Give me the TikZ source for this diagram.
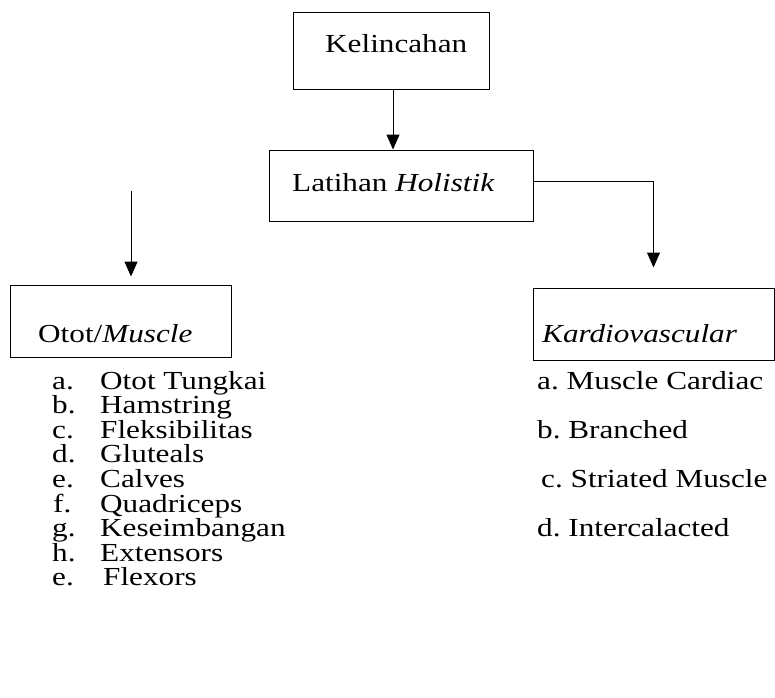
\documentclass[tikz,border=0pt]{standalone}
\usepackage{fontspec}
\setmainfont{Liberation Serif}[FakeStretch=1.2]
\usetikzlibrary{arrows.meta}
\frenchspacing
\begin{document}
\begin{tikzpicture}[x=1pt,y=-1pt,
  box/.style={draw,line width=1pt,inner sep=0pt},
  arr/.style={draw,line width=1pt,-{Triangle[width=13pt,length=15pt]}},
  txt/.style={anchor=base west,inner sep=0pt,font=\fontsize{26}{25}\selectfont}]
\useasboundingbox (0,0) rectangle (775,697);
% boxes
\node[box,minimum width=196pt,minimum height=77pt] (top) at (391,50.5) {};
\node[box,minimum width=264pt,minimum height=71pt] (mid) at (401,185.5) {};
\node[box,minimum width=221pt,minimum height=72pt] (lbox) at (120.5,321) {};
\node[box,minimum width=241pt,minimum height=72pt] (rbox) at (653.5,324) {};
% box texts
\node[txt] (ttop) at (325,52) {Kelincahan};
\node[txt] (tmid) at (292,191) {Latihan \textit{Holistik}};
\node[txt] (tl) at (38,342) {Otot/\textit{Muscle}};
\node[txt] (tr) at (542,342) {\textit{Kardiovascular}};
% connectors
\coordinate (la) at (131,191);
\draw[arr] ([xshift=2pt]top.south) -- ([xshift=2pt]top.south |- mid.north);
\draw[arr,shorten >=8pt] (la) -- (la |- lbox.north);
\draw[arr,shorten >=20pt] ([yshift=4.5pt]mid.east) -| (rbox.north);
% left list
\node[txt] (la1) at (52,389) {a.}; \node[txt] (li1) at (100,389) {Otot Tungkai};
\node[txt] (la2) at (52,413.6) {b.}; \node[txt] (li2) at (100,413.6) {Hamstring};
\node[txt] (la3) at (52,438.2) {c.}; \node[txt] (li3) at (100,438.2) {Fleksibilitas};
\node[txt] (la4) at (52,462.8) {d.}; \node[txt] (li4) at (100,462.8) {Gluteals};
\node[txt] (la5) at (52,487.4) {e.}; \node[txt] (li5) at (100,487.4) {Calves};
\node[txt] (la6) at (53,512) {f.}; \node[txt] (li6) at (100,512) {Quadriceps};
\node[txt] (la7) at (52,536.6) {g.}; \node[txt] (li7) at (100,536.6) {Keseimbangan};
\node[txt] (la8) at (52,561.2) {h.}; \node[txt] (li8) at (100,561.2) {Extensors};
\node[txt] (la9) at (52,585.8) {e.}; \node[txt] (li9) at (103,585.8) {Flexors};
% right list
\node[txt] (r1) at (537,389) {a. Muscle Cardiac};
\node[txt] (r2) at (537,438.2) {b. Branched};
\node[txt] (r3) at (541,487.4) {c. Striated Muscle};
\node[txt] (r4) at (537,536.6) {d. Intercalacted};
\end{tikzpicture}
\end{document}
